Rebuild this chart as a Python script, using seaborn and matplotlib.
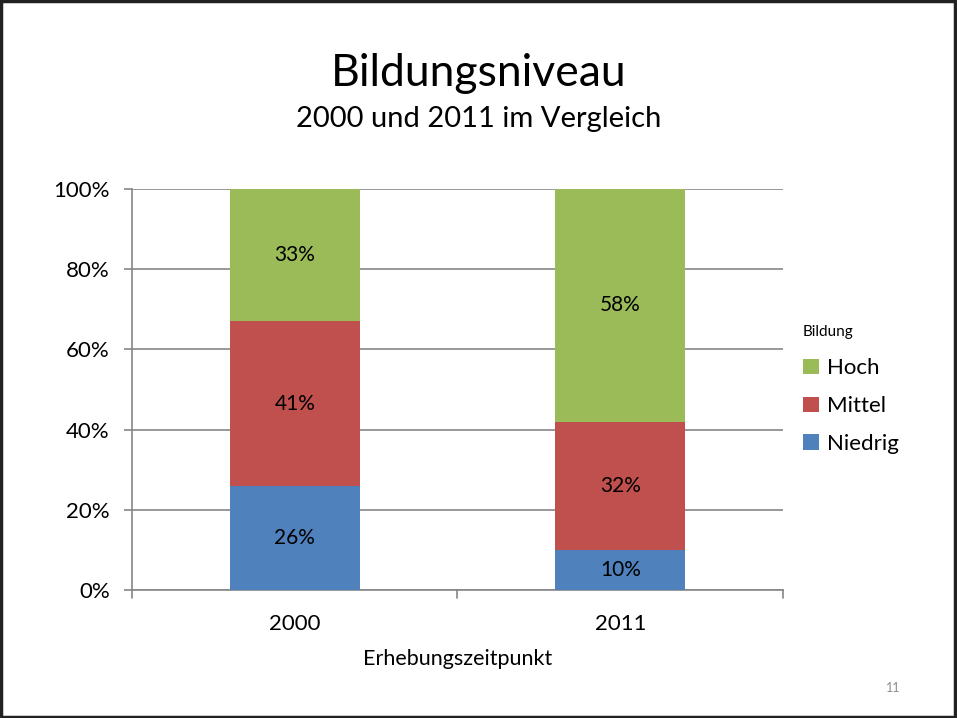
import numpy as np
import pandas as pd
import matplotlib.pyplot as plt
import seaborn as sns

years = ["2000", "2011"]
levels = ["Niedrig", "Mittel", "Hoch"]
niedrig = [26, 10]
mittel = [41, 32]
hoch = [33, 58]
colors = {"Niedrig": "#4F81BD", "Mittel": "#C0504D", "Hoch": "#9BBB59"}

sns.set_theme(style="white")
plt.rcParams["font.family"] = ["Lato", "DejaVu Sans"]
plt.rcParams["text.color"] = "black"
plt.rcParams["xtick.color"] = "black"
plt.rcParams["ytick.color"] = "black"
plt.rcParams["axes.labelcolor"] = "black"

df = pd.DataFrame({"year": years, "Niedrig": niedrig, "Mittel": mittel, "Hoch": hoch})
df["top_mittel"] = df["Niedrig"] + df["Mittel"]
df["top_hoch"] = df["top_mittel"] + df["Hoch"]

fig = plt.figure(figsize=(9.57, 7.18), dpi=100)
ax = fig.add_axes([0.1379, 0.1783, 0.6803, 0.5585])

# stacked bars by overlaying cumulative heights
sns.barplot(data=df, x="year", y="top_hoch", color=colors["Hoch"], width=0.4,
            saturation=1, ax=ax, zorder=3, label="Hoch", linewidth=0)
sns.barplot(data=df, x="year", y="top_mittel", color=colors["Mittel"], width=0.4,
            saturation=1, ax=ax, zorder=3, label="Mittel", linewidth=0)
sns.barplot(data=df, x="year", y="Niedrig", color=colors["Niedrig"], width=0.4,
            saturation=1, ax=ax, zorder=3, label="Niedrig", linewidth=0)

for i in range(len(years)):
    bottom = 0
    for lev in levels:
        v = df[lev][i]
        ax.text(i, bottom + v / 2, f"{v}%", ha="center", va="center",
                fontsize=15, color="black", zorder=4)
        bottom += v

ax.set_ylim(0, 100)
ax.set_xlim(-0.5, 1.5)
ax.set_yticks(np.arange(0, 101, 20))
ax.set_yticklabels([f"{t}%" for t in range(0, 101, 20)], fontsize=16)
ax.tick_params(axis="x", labelsize=16, length=0, pad=17)
ax.tick_params(axis="y", length=6, color="#868686", width=1.2, pad=10, left=True)
ax.yaxis.grid(True, color="#868686", linewidth=1.2, zorder=0)
ax.set_axisbelow(True)
for s in ["top", "right"]:
    ax.spines[s].set_visible(False)
for s in ["left", "bottom"]:
    ax.spines[s].set_color("#868686")
    ax.spines[s].set_linewidth(1.2)
ax.set_ylabel("")
ax.set_xlabel("Erhebungszeitpunkt", fontsize=15.5, labelpad=11)

# category separator ticks on x axis
for xb in [-0.5, 0.5, 1.5]:
    ax.plot([xb, xb], [0, -2], color="#868686", linewidth=1.2, clip_on=False)

handles, labels = ax.get_legend_handles_labels()
leg = ax.legend(handles, labels, title="Bildung", loc="center left",
                bbox_to_anchor=(1.0, 0.5), frameon=False, fontsize=16,
                title_fontsize=11, handlelength=0.7, handleheight=0.7,
                labelspacing=0.8, handletextpad=0.4)
leg._legend_box.align = "left"
leg._legend_box.sep = 14

fig.text(0.5, 0.897, "Bildungsniveau", ha="center", va="center", fontsize=32)
fig.text(0.5, 0.834, "2000 und 2011 im Vergleich", ha="center", va="center", fontsize=21)
fig.text(0.933, 0.042, "11", ha="center", va="center", fontsize=9, color="#8c8c8c")

# slide border
border = plt.Rectangle((0.001, 0.001), 0.997, 0.997, transform=fig.transFigure,
                       fill=False, edgecolor="#222222", linewidth=2.5)
fig.add_artist(border)

plt.savefig("out.png", dpi=100)
